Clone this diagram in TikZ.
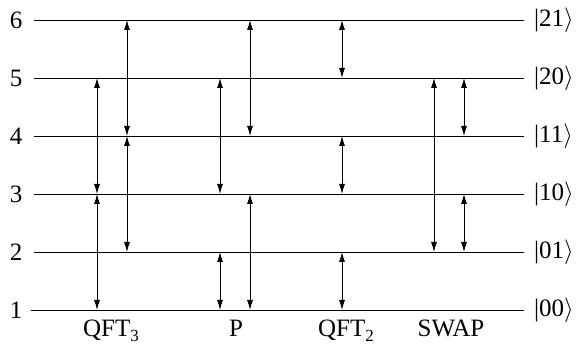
\documentclass[tikz,border=0pt]{standalone}
\usepackage{fontspec}
\setmainfont{Liberation Serif}
\usetikzlibrary{arrows.meta}
\newcommand{\gsub}[1]{\raisebox{-0.2em}{\fontsize{17}{19}\selectfont #1}}
\begin{document}
\begin{tikzpicture}[x=1pt,y=-1pt,
  level/.style={line width=0.9pt},
  dar/.style={line width=0.9pt,{Latex[length=10pt,width=6pt]}-{Latex[length=10pt,width=6pt]}},
  lab/.style={font=\fontsize{25}{28}\selectfont, inner sep=0pt}]
\useasboundingbox (0,0) rectangle (581,347);
% levels
\foreach \n/\y in {1/310,2/252,3/194,4/136,5/78,6/20}{
  \coordinate (L\n) at (34,\y);
  \coordinate (R\n) at (524,\y);
}
\coordinate (L1) at (31,310);
\foreach \n in {1,...,6}{
  \draw[level] (L\n) -- (R\n);
  \node[lab] (num\n) at (16,0 |- L\n) {\n};
}
\node[lab,anchor=west] (k6) at (534,0 |- L6) {|21$\rangle$};
\node[lab,anchor=west] (k5) at (534,0 |- L5) {|20$\rangle$};
\node[lab,anchor=west] (k4) at (534,0 |- L4) {|11$\rangle$};
\node[lab,anchor=west] (k3) at (534,0 |- L3) {|10$\rangle$};
\node[lab,anchor=west] (k2) at (534,0 |- L2) {|01$\rangle$};
\node[lab,anchor=west] (k1) at (534,0 |- L1) {|00$\rangle$};
% columns
\coordinate (c1) at (97,0);
\coordinate (c2) at (127,0);
\coordinate (c3) at (220,0);
\coordinate (c4) at (250,0);
\coordinate (c5) at (342,0);
\coordinate (c6) at (434,0);
\coordinate (c7) at (464,0);
% QFT3
\draw[dar] (c1 |- L5) -- (c1 |- L3);
\draw[dar] (c1 |- L3) -- (c1 |- L1);
\draw[dar] (c2 |- L6) -- (c2 |- L4);
\draw[dar] (c2 |- L4) -- (c2 |- L2);
% P
\draw[dar] (c3 |- L5) -- (c3 |- L3);
\draw[dar] (c3 |- L2) -- (c3 |- L1);
\draw[dar] (c4 |- L6) -- (c4 |- L4);
\draw[dar] (c4 |- L3) -- (c4 |- L1);
% QFT2
\draw[dar] (c5 |- L6) -- (c5 |- L5);
\draw[dar] (c5 |- L4) -- (c5 |- L3);
\draw[dar] (c5 |- L2) -- (c5 |- L1);
% SWAP
\draw[dar] (c6 |- L5) -- (c6 |- L2);
\draw[dar] (c7 |- L5) -- (c7 |- L4);
\draw[dar] (c7 |- L3) -- (c7 |- L2);
% gate labels
\node[lab,anchor=base] (g1) at (111,337) {QFT\gsub{3}};
\node[lab,anchor=base] (g2) at (236,337) {P};
\node[lab,anchor=base] (g3) at (346,337) {QFT\gsub{2}};
\node[lab,anchor=base] (g4) at (451,337) {SWAP};
\end{tikzpicture}
\end{document}
